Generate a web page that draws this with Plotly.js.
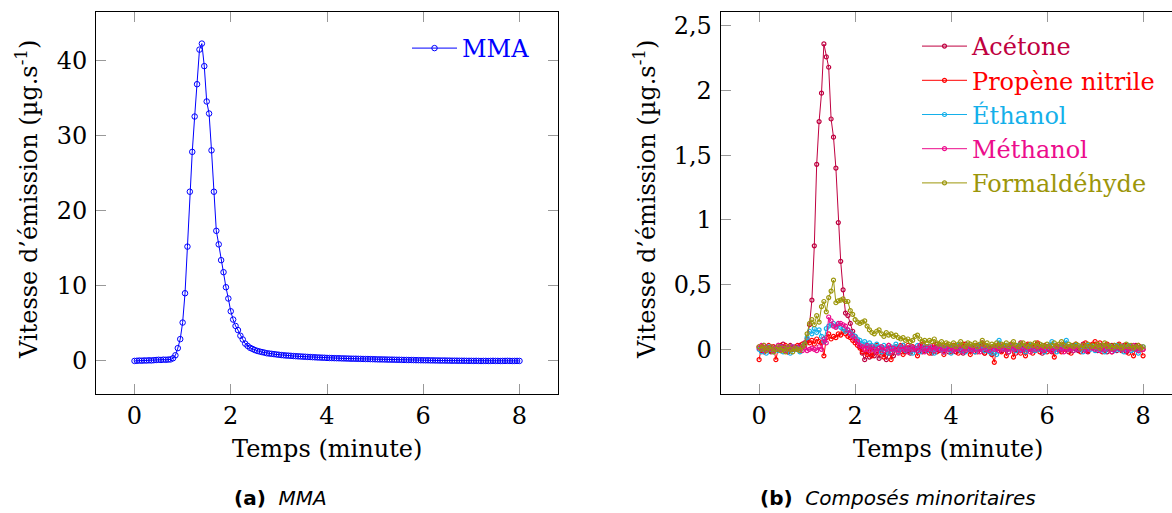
<!DOCTYPE html>
<html><head><meta charset="utf-8">
<script src="https://cdn.plot.ly/plotly-3.0.1.min.js"></script>
<style>html,body{margin:0;padding:0;overflow:hidden;background:#fff;width:1172px;height:513px}#chart{width:1190px;height:513px}</style>
</head><body><div id="chart"></div><script>
// time (minute)
const time = [
0,0.05,0.1,0.15,0.2,0.25,0.3,0.35,0.4,0.45,
0.5,0.55,0.6,0.65,0.7,0.75,0.8,0.85,0.9,0.95,
1,1.05,1.1,1.15,1.2,1.25,1.3,1.35,1.4,1.45,
1.5,1.55,1.6,1.65,1.7,1.75,1.8,1.85,1.9,1.95,
2,2.05,2.1,2.15,2.2,2.25,2.3,2.35,2.4,2.45,
2.5,2.55,2.6,2.65,2.7,2.75,2.8,2.85,2.9,2.95,
3,3.05,3.1,3.15,3.2,3.25,3.3,3.35,3.4,3.45,
3.5,3.55,3.6,3.65,3.7,3.75,3.8,3.85,3.9,3.95,
4,4.05,4.1,4.15,4.2,4.25,4.3,4.35,4.4,4.45,
4.5,4.55,4.6,4.65,4.7,4.75,4.8,4.85,4.9,4.95,
5,5.05,5.1,5.15,5.2,5.25,5.3,5.35,5.4,5.45,
5.5,5.55,5.6,5.65,5.7,5.75,5.8,5.85,5.9,5.95,
6,6.05,6.1,6.15,6.2,6.25,6.3,6.35,6.4,6.45,
6.5,6.55,6.6,6.65,6.7,6.75,6.8,6.85,6.9,6.95,
7,7.05,7.1,7.15,7.2,7.25,7.3,7.35,7.4,7.45,
7.5,7.55,7.6,7.65,7.7,7.75,7.8,7.85,7.9,7.95,
8];
// (a) MMA
const mma = [
0.0,0.02,0.05,0.03,0.06,0.05,0.08,0.06,0.1,0.12,
0.15,0.13,0.17,0.15,0.18,0.2,0.35,0.75,1.7,2.9,
5.1,9.0,15.2,22.5,27.8,32.5,36.8,41.4,42.2,39.2,
34.5,32.9,28.0,22.5,17.3,15.5,13.4,11.8,9.8,8.3,
6.6,5.5,4.65,4.1,3.35,2.85,2.3,2.0,1.75,1.6,
1.45,1.33,1.25,1.17,1.1,1.02,0.98,0.94,0.9,0.86,
0.82,0.78,0.75,0.72,0.7,0.68,0.65,0.63,0.61,0.59,
0.57,0.55,0.53,0.52,0.5,0.48,0.46,0.45,0.43,0.42,
0.4,0.39,0.38,0.37,0.36,0.35,0.34,0.33,0.32,0.31,
0.3,0.29,0.29,0.28,0.27,0.26,0.25,0.25,0.24,0.23,
0.22,0.21,0.2,0.2,0.19,0.18,0.17,0.17,0.16,0.15,
0.15,0.14,0.13,0.13,0.12,0.12,0.11,0.1,0.1,0.09,
0.09,0.08,0.08,0.07,0.07,0.06,0.06,0.05,0.05,0.05,
0.04,0.04,0.03,0.03,0.03,0.02,0.02,0.02,0.01,0.01,
0.01,0.0,0.01,0.0,-0.01,0.0,0.0,-0.01,0.0,0.01,
0.0,0.0,-0.01,0.0,0.0,0.01,0.0,-0.01,0.0,0.0,
0.0];
// (b) minor compounds
const acetone = [
0.02,-0.01,0.03,0.0,0.01,-0.02,0.02,0.0,0.03,-0.01,
0.04,0.01,-0.02,0.03,0.0,0.02,0.01,0.03,0.02,0.05,
0.08,0.19,0.38,0.8,1.43,1.76,1.98,2.36,2.26,2.18,
1.78,1.64,1.4,0.98,0.68,0.46,0.28,0.26,0.2,0.14,
0.1,0.06,0.02,-0.03,-0.08,-0.02,-0.06,0.01,-0.05,-0.02,
-0.07,0.0,-0.04,-0.08,-0.03,0.01,-0.05,0.02,-0.02,0.0,
0.03,-0.02,0.01,-0.03,0.02,0.0,-0.01,0.03,-0.02,0.01,
0.0,0.02,-0.03,0.01,0.04,-0.01,0.02,0.0,0.03,-0.02,
0.01,0.03,-0.02,0.02,0.0,-0.03,0.04,0.01,-0.01,0.02,
-0.02,0.03,0.0,0.05,-0.03,0.02,0.01,-0.04,0.02,0.0,
0.03,-0.01,0.02,0.0,-0.02,0.04,0.01,-0.03,0.02,0.05,
0.01,-0.02,0.03,0.0,0.02,-0.01,0.04,0.0,-0.03,0.02,
0.0,0.03,-0.02,0.01,0.02,-0.01,0.03,0.0,0.02,-0.02,
0.01,0.03,0.0,-0.01,0.02,0.04,0.0,-0.02,0.03,0.01,
0.02,-0.01,0.03,0.0,0.02,-0.02,0.01,0.03,0.0,-0.01,
0.02,0.0,0.03,-0.02,0.01,0.02,0.0,0.03,-0.01,0.02,
0.0];
const propene = [
-0.08,0.02,-0.02,0.01,0.03,-0.01,0.02,-0.08,0.01,0.03,
0.0,0.03,-0.02,0.02,0.01,0.0,0.03,0.02,0.04,0.03,
0.06,0.05,0.07,0.04,0.08,0.06,0.05,-0.05,0.09,0.12,
0.08,0.1,0.09,0.12,0.11,0.14,0.12,0.1,0.09,0.07,
0.05,0.03,0.01,-0.02,0.03,-0.04,0.02,-0.05,0.01,0.03,
-0.03,0.02,-0.06,0.01,0.03,-0.08,0.0,0.02,-0.02,0.03,
-0.04,0.01,0.03,-0.02,0.02,0.0,-0.05,0.02,0.04,-0.01,
0.02,-0.03,0.01,0.03,-0.02,0.02,0.0,-0.04,0.03,0.01,
-0.02,0.03,0.01,-0.03,0.02,0.04,-0.01,0.02,-0.04,0.01,
0.03,-0.02,0.01,0.04,-0.03,0.02,0.0,-0.04,-0.1,0.02,
0.04,-0.02,0.03,-0.05,0.01,0.02,-0.06,0.03,0.0,-0.03,
0.02,-0.05,0.04,0.01,-0.03,0.02,0.05,-0.02,0.01,0.03,
-0.02,0.02,0.0,-0.06,0.03,0.01,-0.02,0.04,0.0,0.02,
-0.03,0.02,0.04,0.01,-0.02,0.03,0.05,-0.01,0.03,0.04,
0.06,0.02,0.05,-0.02,0.03,0.04,0.01,-0.02,0.03,0.02,
0.04,-0.01,0.02,0.03,-0.03,0.01,-0.05,0.02,0.03,0.01,
-0.05];
const ethanol = [
0.0,-0.02,0.01,-0.03,0.02,0.0,-0.02,0.01,-0.01,0.02,
-0.02,0.0,0.01,-0.03,0.02,0.0,0.01,-0.02,0.02,0.04,
0.09,0.14,0.12,0.16,0.13,0.15,0.1,0.06,0.16,0.18,
0.19,0.2,0.18,0.19,0.17,0.16,0.14,0.15,0.13,0.11,
0.1,0.08,0.07,0.04,0.06,0.02,0.05,0.03,0.0,0.04,
0.02,-0.02,0.03,0.01,-0.03,0.02,0.0,0.04,-0.02,0.01,
0.03,-0.01,0.0,0.02,-0.03,0.01,0.03,-0.02,0.0,0.02,
-0.01,0.02,0.0,-0.03,0.01,0.03,0.0,-0.02,0.02,0.01,
-0.03,0.02,0.0,0.03,-0.01,0.01,-0.02,0.03,0.0,0.02,
-0.02,0.01,0.03,0.0,-0.01,0.02,-0.02,-0.03,0.01,-0.04,
0.07,0.01,0.0,0.03,-0.02,0.02,0.01,-0.01,0.03,0.0,
0.02,-0.02,0.01,0.03,0.0,-0.01,0.02,0.0,0.03,-0.02,
0.01,0.03,0.06,0.0,-0.02,0.02,0.01,0.03,0.07,0.0,
0.02,-0.01,0.03,0.0,0.02,-0.02,0.01,0.03,0.0,0.02,
-0.01,0.02,0.0,0.03,-0.02,0.01,0.02,0.0,-0.01,0.03,
0.0,0.02,-0.02,0.01,0.03,-0.01,0.0,0.02,-0.03,0.01,
0.02];
const methanol = [
0.01,0.03,-0.01,0.02,0.0,0.02,-0.01,0.01,0.03,0.0,
0.02,-0.01,0.01,0.0,0.02,0.01,0.0,0.02,-0.01,0.01,
-0.01,0.0,0.01,0.0,-0.01,0.02,0.0,0.08,0.05,0.25,
0.22,0.18,0.17,0.2,0.2,0.19,0.18,0.15,0.12,0.1,
0.08,0.06,0.03,0.02,0.0,0.03,-0.01,0.02,0.0,-0.02,
0.01,0.02,-0.01,0.0,0.03,-0.02,0.01,0.0,-0.03,0.02,
0.0,0.01,-0.02,0.02,0.0,0.01,-0.01,0.03,0.0,-0.02,
0.01,0.0,0.02,-0.01,0.01,0.0,0.02,-0.02,0.01,0.0,
0.02,-0.01,0.0,0.01,0.03,-0.02,0.01,0.0,0.02,-0.01,
0.0,0.02,-0.02,0.01,0.03,0.0,-0.01,0.02,0.0,0.01,
-0.01,0.02,0.0,0.01,-0.02,0.03,0.0,0.01,0.02,-0.01,
0.0,0.02,0.01,-0.02,0.03,0.0,0.01,0.02,-0.01,0.0,
0.02,0.0,-0.01,0.01,0.03,0.0,0.02,-0.02,0.01,0.0,
0.01,-0.01,0.02,0.0,0.01,0.03,-0.01,0.0,0.02,0.01,
0.0,0.02,-0.01,0.01,0.0,0.03,0.01,-0.02,0.0,0.02,
0.01,0.0,0.02,-0.01,0.0,0.01,0.03,0.0,-0.01,0.01,
0.0];
const formaldehyde = [
0.02,0.0,0.03,-0.01,0.01,0.02,-0.02,0.0,0.02,-0.01,
0.01,-0.02,0.02,0.0,-0.02,0.01,0.0,-0.01,0.02,0.04,
0.12,0.2,0.23,0.19,0.26,0.21,0.33,0.37,0.29,0.4,
0.45,0.535,0.36,0.375,0.38,0.39,0.37,0.37,0.3,0.27,
0.23,0.21,0.2,0.21,0.22,0.18,0.15,0.13,0.12,0.14,
0.15,0.12,0.1,0.13,0.11,0.12,0.1,0.11,0.09,0.08,
0.09,0.07,0.08,0.06,0.07,0.1,0.11,0.08,0.06,0.07,
0.05,0.07,0.06,0.08,0.05,0.04,0.06,0.03,0.05,0.04,
0.03,0.05,0.02,0.04,0.06,0.03,0.02,0.05,0.04,0.03,
0.05,0.02,0.04,0.07,0.03,0.05,0.02,0.04,0.03,0.05,
0.02,0.04,0.03,0.05,0.02,0.04,0.06,0.03,0.02,0.04,
0.05,0.03,0.02,0.04,0.03,0.05,0.02,0.04,0.03,0.02,
0.04,0.02,0.03,0.05,0.02,0.04,0.06,0.03,0.02,0.04,
0.03,0.02,0.04,0.03,0.01,0.03,0.02,0.04,0.02,0.03,
0.02,0.04,0.01,0.03,0.05,0.02,0.03,0.01,0.03,0.02,
0.03,0.01,0.02,0.04,0.02,0.03,0.01,0.02,0.03,0.01,
0.02];

const seriesB = [
  {name:'Acétone', y:acetone, color:'#bf0040'},
  {name:'Propène nitrile', y:propene, color:'#ff0000'},
  {name:'Éthanol', y:ethanol, color:'#14b0ea'},
  {name:'Méthanol', y:methanol, color:'#ec0c8c'},
  {name:'Formaldéhyde', y:formaldehyde, color:'#9c960a'}
];
const xTicks = [0,2,4,6,8];
const yTicksA = [0,10,20,30,40];
const yTicksB = [0,0.5,1,1.5,2,2.5];
const yTickTextB = ['0','0,5','1','1,5','2','2,5'];

const W = 1190, H = 513;
const SERIF = 'DejaVu Serif';
const FS = 24;
const px = v => v / W, py = v => 1 - v / H;

const traces = [{
  x: time, y: mma, name: 'MMA', type: 'scatter', mode: 'lines+markers',
  xaxis: 'x', yaxis: 'y', legend: 'legend',
  line: {color:'#0000ff', width:1},
  marker: {symbol:'circle-open', size:5.5, color:'#0000ff', line:{width:1, color:'#0000ff'}}
}];
seriesB.forEach(s => traces.push({
  x: time, y: s.y, type: 'scatter', mode: 'lines+markers',
  name: '<span style="color:' + s.color + '">' + s.name + '</span>',
  xaxis: 'x2', yaxis: 'y2', legend: 'legend2',
  line: {color: s.color, width: 1},
  marker: {symbol:'circle-open', size:4, color: s.color, line:{width:1.2, color: s.color}}
}));

const axBase = {
  showgrid:false, zeroline:false, showline:true, linecolor:'#000', linewidth:1,
  mirror:'ticks', ticks:'inside', ticklen:10, tickwidth:1, tickcolor:'#999',
  tickfont:{family:SERIF, size:FS, color:'#000'}, tickmode:'array'
};
const yDom = [119/H, 501/H];

const layout = {
  width: W, height: H, margin:{l:0,r:0,t:0,b:0},
  paper_bgcolor:'#fff', plot_bgcolor:'#fff', separators:', ',
  showlegend:true,
  xaxis: Object.assign({}, axBase, {domain:[px(96), px(558)], range:[-0.8,8.8], tickvals:xTicks, anchor:'y'}),
  yaxis: Object.assign({}, axBase, {domain:yDom, range:[-4.4,46.4], tickvals:yTicksA, anchor:'x', ticklabelstandoff:3}),
  xaxis2: Object.assign({}, axBase, {domain:[px(720.7), px(1181.5)], range:[-0.8,8.8], tickvals:xTicks, anchor:'y2'}),
  yaxis2: Object.assign({}, axBase, {domain:yDom, range:[-0.345,2.607], tickvals:yTicksB, ticktext:yTickTextB, anchor:'x2', ticklabelstandoff:3}),
  legend: {x:px(407), y:py(26), xanchor:'left', yanchor:'top', bgcolor:'rgba(0,0,0,0)', borderwidth:0,
    font:{family:SERIF, size:FS, color:'#0000ff'}, itemwidth:45},
  legend2: {x:px(917), y:py(24), xanchor:'left', yanchor:'top', bgcolor:'rgba(0,0,0,0)', borderwidth:0,
    font:{family:SERIF, size:FS, color:'#000'}, itemwidth:45},
  annotations: [
    {text:'Vitesse d’émission (µg.s<sup>-1</sup>)', xref:'paper', yref:'paper', x:px(27), y:py(200), textangle:-90,
      showarrow:false, xanchor:'center', yanchor:'middle', font:{family:SERIF, size:FS, color:'#000'}},
    {text:'Vitesse d’émission (µg.s<sup>-1</sup>)', xref:'paper', yref:'paper', x:px(645), y:py(200), textangle:-90,
      showarrow:false, xanchor:'center', yanchor:'middle', font:{family:SERIF, size:FS, color:'#000'}},
    {text:'Temps (minute)', xref:'paper', yref:'paper', x:px(327), y:py(449), showarrow:false,
      xanchor:'center', yanchor:'middle', font:{family:SERIF, size:FS, color:'#000'}},
    {text:'Temps (minute)', xref:'paper', yref:'paper', x:px(948), y:py(449), showarrow:false,
      xanchor:'center', yanchor:'middle', font:{family:SERIF, size:FS, color:'#000'}},
    {text:'<b>(a)</b>  <i>MMA</i>', xref:'paper', yref:'paper', x:px(280), y:py(498), showarrow:false,
      xanchor:'center', yanchor:'middle', font:{family:'DejaVu Sans', size:20, color:'#000'}},
    {text:'<b>(b)</b>  <i>Composés minoritaires</i>', xref:'paper', yref:'paper', x:px(898), y:py(498), showarrow:false,
      xanchor:'center', yanchor:'middle', font:{family:'DejaVu Sans', size:20, color:'#000'}}
  ]
};
Plotly.newPlot('chart', traces, layout, {staticPlot:true, displayModeBar:false});
</script></body></html>
